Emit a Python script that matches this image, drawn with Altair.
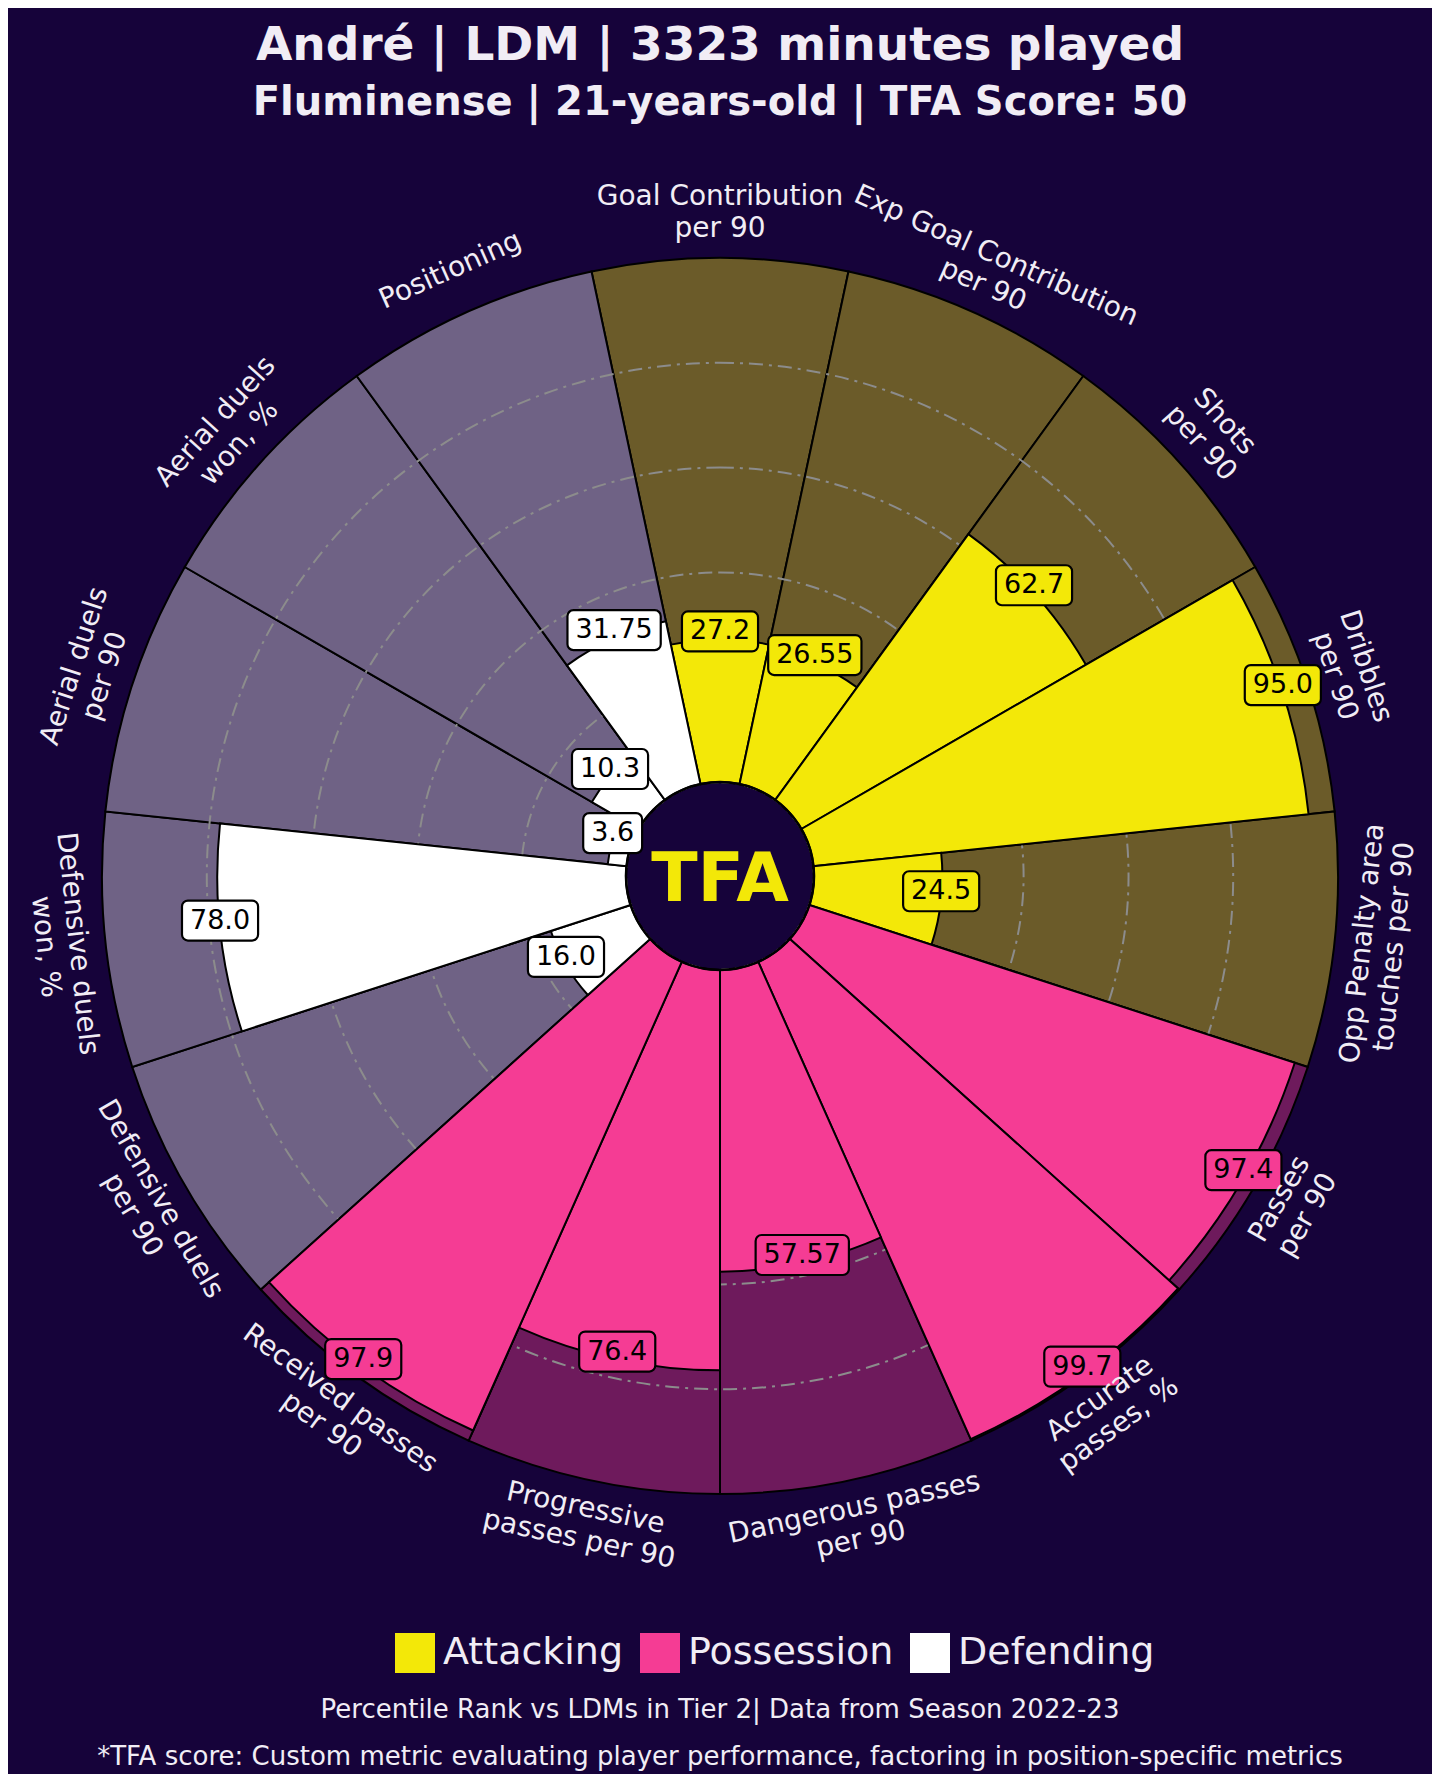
import math
import altair as alt
import pandas as pd

# ---------------- data ----------------
params = [
    "Goal Contribution\nper 90",
    "Exp Goal Contribution\nper 90",
    "Shots\nper 90",
    "Dribbles\nper 90",
    "Opp Penalty area\ntouches per 90",
    "Passes\nper 90",
    "Accurate\npasses, %",
    "Dangerous passes\nper 90",
    "Progressive\npasses per 90",
    "Received passes\nper 90",
    "Defensive duels\nper 90",
    "Defensive duels\nwon, %",
    "Aerial duels\nper 90",
    "Aerial duels\nwon, %",
    "Positioning",
]
values = [27.2, 26.55, 62.7, 95.0, 24.5, 97.4, 99.7, 57.57, 76.4, 97.9,
          16.0, 78.0, 3.6, 10.3, 31.75]
value_labels = ["27.2", "26.55", "62.7", "95.0", "24.5", "97.4", "99.7", "57.57",
                "76.4", "97.9", "16.0", "78.0", "3.6", "10.3", "31.75"]
groups = ["Attacking"] * 5 + ["Possession"] * 5 + ["Defending"] * 5
group_order = ["Attacking", "Possession", "Defending"]
ring_levels = [20, 40, 60, 80]

title_line1 = "André | LDM | 3323 minutes played"
title_line2 = "Fluminense | 21-years-old | TFA Score: 50"
note_line1 = "Percentile Rank vs LDMs in Tier 2| Data from Season 2022-23"
note_line2 = ("*TFA score: Custom metric evaluating player performance, "
              "factoring in position-specific metrics")
logo_text = "TFA"

# ---------------- style / layout ----------------
BG = "#16033a"
TEXT = "#f1edf5"
FG_COLORS = ["#f3e808", "#f53c94", "#ffffff"]
BG_COLORS = ["#6b5b29", "#6e1a5c", "#6f6285"]
RING = "#8c8c8c"
FONT = "DejaVu Sans"

W, H = 1424, 1736
R0, R1 = 94, 618
N = len(params)
STEP = 360 / N
LABEL_R = 108.5
LIFT = 8
PARAM_FS = 28
PARAM_LH = 32
VAL_FS = 27

rscale = alt.Scale(type="linear", domain=[0, 100], range=[R0, R1])
tscale = alt.Scale(type="linear", domain=[0, 360], range=[0, 2 * math.pi])
fgscale = alt.Scale(domain=group_order, range=FG_COLORS)
bgscale = alt.Scale(domain=group_order, range=BG_COLORS)

df = pd.DataFrame({
    "idx": list(range(N)),
    "param": params,
    "value": values,
    "label": value_labels,
    "group": groups,
})

base = alt.Chart(df).transform_calculate(
    start=f"datum.idx * {STEP} - {STEP / 2}",
    end=f"datum.idx * {STEP} + {STEP / 2}",
    mid=f"datum.idx * {STEP}",
)

theta = alt.Theta("start:Q", scale=tscale, stack=None)
theta2 = alt.Theta2("end:Q")

background = base.mark_arc(stroke="black", strokeWidth=2).encode(
    theta=theta,
    theta2=theta2,
    radius=alt.RadiusDatum(100, scale=rscale),
    radius2=alt.Radius2Datum(0),
    fill=alt.Fill("group:N", scale=bgscale, legend=None),
)

rings = alt.Chart(pd.DataFrame({"ring": ring_levels})).mark_arc(
    theta=0, theta2=2 * math.pi, fillOpacity=0, stroke=RING, strokeWidth=2,
    strokeDash=[14, 6, 3, 6],
).encode(radius=alt.Radius("ring:Q", scale=rscale, stack=None))

legend = alt.Legend(
    title=None, orient="none", legendX=387, legendY=1625, direction="horizontal",
    symbolType="square", symbolSize=1600, symbolStrokeWidth=0, symbolOpacity=1,
    labelFontSize=38, labelFont=FONT, labelColor=TEXT, labelOffset=8,
    columnPadding=16, padding=0, labelLimit=500,
)

slices = base.mark_arc().encode(
    theta=theta,
    theta2=theta2,
    radius=alt.Radius("value:Q", scale=rscale),
    radius2=alt.Radius2Datum(0),
    color=alt.Color("group:N", scale=fgscale, legend=legend),
    stroke=alt.value("black"),
    strokeWidth=alt.value(2),
)

one = pd.DataFrame({"k": [0]})
center = alt.Chart(one).mark_arc(
    theta=0, theta2=2 * math.pi, fill=BG, stroke="black", strokeWidth=2.5
).encode(radius=alt.RadiusDatum(0, scale=rscale))

logo = alt.Chart(pd.DataFrame({"t": [logo_text]})).mark_text(
    font=FONT, fontWeight="bold", fontSize=68, color=FG_COLORS[0],
    align="center", baseline="alphabetic",
).encode(text="t:N", x=alt.value(W / 2), y=alt.value(H / 2 + 25))

rpx = f"({R0} + datum.value / 100 * {R1 - R0})"
boxes = base.transform_calculate(
    cx=f"{W / 2} + {rpx} * sin(datum.mid * PI / 180)",
    cy=f"{H / 2} - {rpx} * cos(datum.mid * PI / 180) - {LIFT}",
    bw=f"(length(datum.label) - 1) * {0.636 * VAL_FS} + {0.318 * VAL_FS + 16}",
).transform_calculate(
    bx1="datum.cx - datum.bw / 2",
    bx2="datum.cx + datum.bw / 2",
    by1="datum.cy - 20",
    by2="datum.cy + 20",
).mark_rect(cornerRadius=6, stroke="black", strokeWidth=2.2).encode(
    x=alt.X("bx1:Q", scale=None, axis=None),
    x2="bx2:Q",
    y=alt.Y("by1:Q", scale=None, axis=None),
    y2="by2:Q",
    color=alt.Color("group:N", scale=fgscale, legend=None),
)

value_text = base.mark_text(
    font=FONT, fontSize=VAL_FS, color="black", align="center", baseline="middle",
    dy=-LIFT,
).encode(
    theta=alt.Theta("mid:Q", scale=tscale, stack=None),
    radius=alt.Radius("value:Q", scale=rscale),
    text="label:N",
)

param_base = base.transform_calculate(
    rot="(datum.mid > 90 && datum.mid < 270) ? (datum.mid + 180) % 360 : datum.mid",
    multi="indexof(datum.param, '\\n') >= 0",
)
param_enc = dict(
    theta=alt.Theta("mid:Q", scale=tscale, stack=None),
    radius=alt.RadiusDatum(LABEL_R, scale=rscale),
    angle=alt.Angle("rot:Q", scale=None),
    text="param:N",
)
param_multi = param_base.transform_filter("datum.multi").mark_text(
    font=FONT, fontSize=PARAM_FS, color=TEXT, align="center", baseline="middle",
    lineBreak="\n", lineHeight=PARAM_LH, dy=-PARAM_LH / 2,
).encode(**param_enc)
param_single = param_base.transform_filter("!datum.multi").mark_text(
    font=FONT, fontSize=PARAM_FS, color=TEXT, align="center", baseline="middle",
).encode(**param_enc)


def line(txt, y, size, bold=False):
    return alt.Chart(pd.DataFrame({"t": [txt]})).mark_text(
        font=FONT, fontSize=size, fontWeight="bold" if bold else "normal",
        color=TEXT, align="center", baseline="alphabetic",
    ).encode(text="t:N", x=alt.value(W / 2), y=alt.value(y))


t1 = line(title_line1, 52, 47, True)
t2 = line(title_line2, 107, 40, True)
n1 = line(note_line1, 1710, 26)
n2 = line(note_line2, 1757, 26)

chart = alt.layer(
    background, rings, slices, center, logo, boxes, value_text,
    param_multi, param_single, t1, t2, n1, n2,
).resolve_scale(
    color="independent"
).properties(
    width=W, height=H,
    padding={"left": 0, "top": 0, "right": 0, "bottom": 30},
    autosize=alt.AutoSizeParams(type="none"),
    background=BG,
).configure_view(stroke=None)

chart.save("out.html", embed_options={"renderer": "svg", "actions": False})
